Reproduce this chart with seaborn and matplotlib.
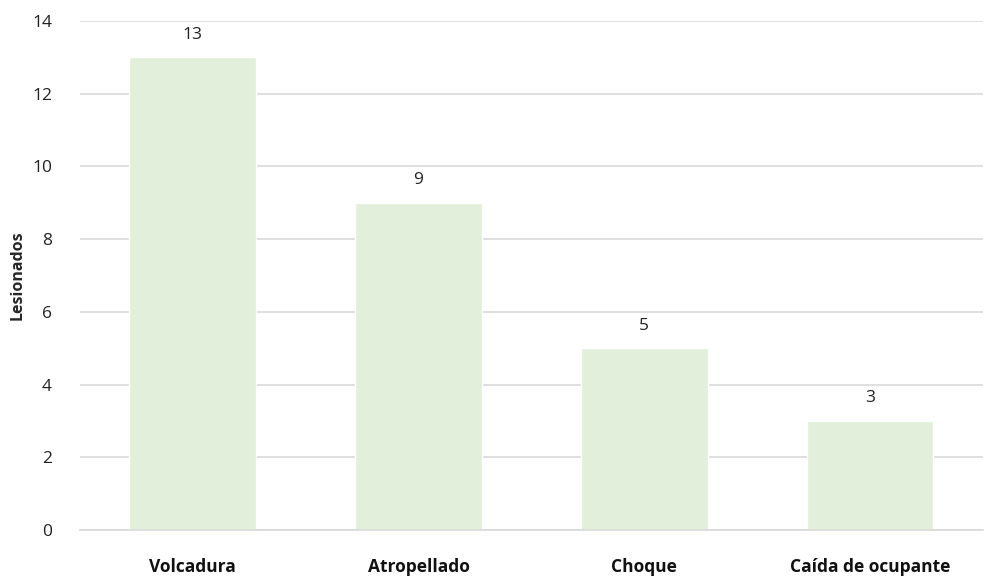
import matplotlib
matplotlib.use("Agg")
import matplotlib.pyplot as plt
import seaborn as sns
import pandas as pd


# =========================
# Data
# =========================

categories = [
    "Volcadura",
    "Atropellado",
    "Choque",
    "Caída de ocupante"
]

lesionados = [13, 9, 5, 3]

y_ticks = [0, 2, 4, 6, 8, 10, 12, 14]


df = pd.DataFrame(
    {
        "tipo": categories,
        "lesionados": lesionados
    }
)


# =========================
# Plot
# =========================

sns.set_style("white")
plt.rcParams["font.family"] = ["Open Sans", "DejaVu Sans"]

fig = plt.figure(figsize=(9.85, 5.78), dpi=100)
ax = fig.add_axes([0.081, 0.083, 0.917, 0.881])

ax.set_axisbelow(True)
ax.yaxis.grid(True, color="#d9d9d9", linewidth=1.2)

sns.barplot(
    data=df,
    x="tipo",
    y="lesionados",
    color="#e2efda",
    width=0.56,
    saturation=1,
    ax=ax
)

for i, v in enumerate(lesionados):
    ax.text(
        i,
        v + 0.4,
        str(v),
        ha="center",
        va="bottom",
        fontsize=12.5,
        color="#222222"
    )

ax.set_xlim(-0.5, 3.5)
ax.set_ylim(0, 14)
ax.set_yticks(y_ticks)
ax.set_yticklabels([str(t) for t in y_ticks], fontsize=12.5, color="#222222")

ax.set_xticks(range(len(categories)))
ax.set_xticklabels(categories, fontsize=12.5, fontweight="bold", color="#111111")

ax.set_xlabel("")
ax.set_ylabel("Lesionados", fontsize=11.5, fontweight="bold")
ax.yaxis.set_label_coords(-0.06, 0.5)

ax.tick_params(axis="both", length=0)
ax.tick_params(axis="x", pad=20)
ax.tick_params(axis="y", pad=20)

for side in ["left", "right", "top"]:
    ax.spines[side].set_visible(False)
ax.spines["bottom"].set_color("#d9d9d9")
ax.spines["bottom"].set_linewidth(1.2)

plt.savefig("out.png", dpi=100)
